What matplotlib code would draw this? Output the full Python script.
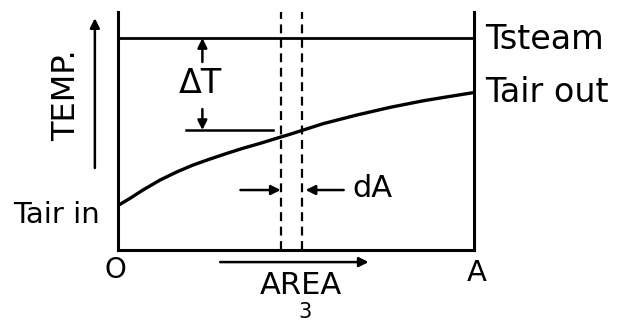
import matplotlib.pyplot as plt

# area fraction (0 = inlet, 1 = A) and temperature scaled so Tsteam = 100
area = [0.0, 0.034, 0.070, 0.118, 0.166, 0.211, 0.258, 0.306, 0.351,
        0.399, 0.455, 0.483, 0.576, 0.671, 0.764, 0.857, 0.933, 1.0]
t_air = [21.0, 24.4, 28.3, 33.0, 36.9, 40.1, 42.9, 45.6, 48.0,
         50.3, 53.2, 54.6, 59.6, 63.7, 67.3, 70.4, 72.5, 74.3]
t_steam = 100.0
strip = [0.457, 0.518]  # the dA strip

plt.rcParams["font.family"] = ["DejaVu Sans"]

fig = plt.figure(figsize=(6.26, 3.28), dpi=100)
ax = fig.add_axes([0.1885, 0.2378, 0.5687, 0.7256])

ax.plot(area, t_air, color="black", lw=2.4, solid_capstyle="round",
        solid_joinstyle="round")
ax.axhline(t_steam, color="black", lw=2.0)
for x in strip:
    ax.axvline(x, color="black", lw=1.6, ls=(0, (4, 2.5)))

ax.set_xlim(0, 1)
ax.set_ylim(0, 112.3)
ax.set_xticks([])
ax.set_yticks([])
ax.spines["top"].set_visible(False)
for s in ["left", "bottom", "right"]:
    ax.spines[s].set_linewidth(2.2)

arrow = dict(arrowstyle="-|>", color="black", lw=1.8, mutation_scale=14,
             shrinkA=0, shrinkB=0)

# delta T between steam line and air curve
ax.annotate("", xy=(0.237, 100), xytext=(0.237, 88.7), arrowprops=arrow)
ax.annotate("", xy=(0.237, 56.6), xytext=(0.237, 66.5), arrowprops=arrow)
ax.plot([0.192, 0.434], [56.6, 56.6], color="black", lw=1.8)
ax.text(0.230, 78.8, "ΔT", fontsize=24, ha="center", va="center")

# dA strip arrows
ax.annotate("", xy=(0.457, 28.3), xytext=(0.344, 28.3), arrowprops=arrow)
ax.annotate("", xy=(0.527, 28.3), xytext=(0.634, 28.3), arrowprops=arrow)
ax.text(0.657, 28.8, "dA", fontsize=22, ha="left", va="center")

# axis arrows
ax.annotate("", xy=(-0.065, 109.4), xytext=(-0.065, 38.7), arrowprops=arrow,
            annotation_clip=False)
ax.annotate("", xy=(0.704, -5.7), xytext=(0.287, -5.7), arrowprops=arrow,
            annotation_clip=False)

# labels
ax.text(-0.143, 73.1, "TEMP.", fontsize=23, rotation=90, ha="center",
        va="center", clip_on=False)
ax.text(-0.05, 16.5, "Tair in", fontsize=21, ha="right", va="center",
        clip_on=False)
ax.text(1.03, 99.5, "Tsteam", fontsize=24, ha="left", va="center",
        clip_on=False)
ax.text(1.03, 74.1, "Tair out", fontsize=24, ha="left", va="center",
        clip_on=False)
ax.text(-0.006, -9.4, "O", fontsize=20, ha="center", va="center",
        clip_on=False)
ax.text(1.008, -10.8, "A", fontsize=21, ha="center", va="center",
        clip_on=False)
ax.text(0.514, -16.8, "AREA", fontsize=22, ha="center", va="center",
        clip_on=False)
ax.text(0.525, -29.2, "3", fontsize=15, ha="center", va="center",
        clip_on=False)

fig.savefig("out.png", dpi=100)
